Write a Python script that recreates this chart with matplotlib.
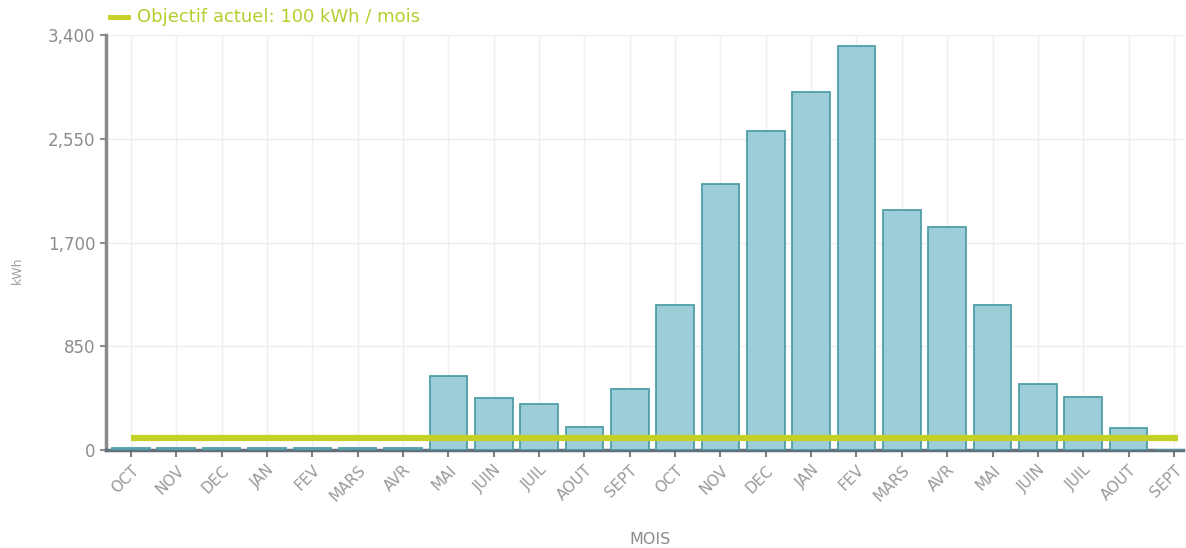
import matplotlib
matplotlib.use("Agg")
import matplotlib.pyplot as plt
from matplotlib.lines import Line2D
import numpy as np

months = ["OCT", "NOV", "DEC", "JAN", "FEV", "MARS", "AVR", "MAI", "JUIN", "JUIL", "AOUT", "SEPT",
          "OCT", "NOV", "DEC", "JAN", "FEV", "MARS", "AVR", "MAI", "JUIN", "JUIL", "AOUT", "SEPT"]
consumption = [15, 15, 15, 15, 15, 15, 15, 605, 430, 380, 190, 500,
               1188, 2179, 2614, 2933, 3312, 1966, 1827, 1188, 541, 434, 180, 0]
goal = 100
yticks = [0, 850, 1700, 2550, 3400]

plt.rcParams['font.family'] = ['DejaVu Sans']
fig = plt.figure(figsize=(11.86, 5.48), dpi=100)
ax = fig.add_axes([106/1186, 1-450/548, (1183-106)/1186, (450-35)/548])

x = np.arange(len(months))
ax.bar(x, consumption, width=0.83, color="#9dcdd6", edgecolor="#4f9ea8", linewidth=1.3, zorder=3)
ax.plot([x[0], x[-1] + 0.08], [goal, goal], color="#c5d027", linewidth=4.5, zorder=4,
        solid_capstyle="butt")

ax.set_xlim(-0.55, 23.2)
ax.set_ylim(0, 3400)
ax.set_yticks(yticks)
ax.set_yticklabels([f"{v:,}" for v in yticks])
ax.set_xticks(x)
ax.set_xticklabels(months, rotation=45, ha="right", rotation_mode="anchor")

ax.grid(True, color="#efefef", linewidth=1, zorder=0)
for s in ["top", "right"]:
    ax.spines[s].set_visible(False)
ax.spines["left"].set_color("#8a8a8a")
ax.spines["left"].set_linewidth(2.5)
ax.spines["bottom"].set_color("#62707e")
ax.spines["bottom"].set_linewidth(2.5)
ax.tick_params(axis="y", colors="#8a8a8a", labelcolor="#8c8c8c", length=4, width=1.5, labelsize=12)
ax.tick_params(axis="x", colors="#7d7d7d", labelcolor="#9a9a9a", length=5, width=1.5, labelsize=11, pad=4)

ax.set_ylabel("kWh", color="#a0a0a0", fontsize=9)
ax.yaxis.set_label_coords(-(106-24)/(1183-106), (450-270)/415)
fig.text(650/1186, 1-540/548, "MOIS", color="#8c8c8c", fontsize=11.5, ha="center", va="center")

fig.add_artist(Line2D([110/1186, 128/1186], [1-17/548, 1-17/548], color="#c5d027", linewidth=3.5))
fig.text(137/1186, 1-17/548, "Objectif actuel: 100 kWh / mois", color="#b9cc2e", fontsize=13,
         va="center", ha="left")

fig.savefig("out.png", dpi=100, facecolor="white")
